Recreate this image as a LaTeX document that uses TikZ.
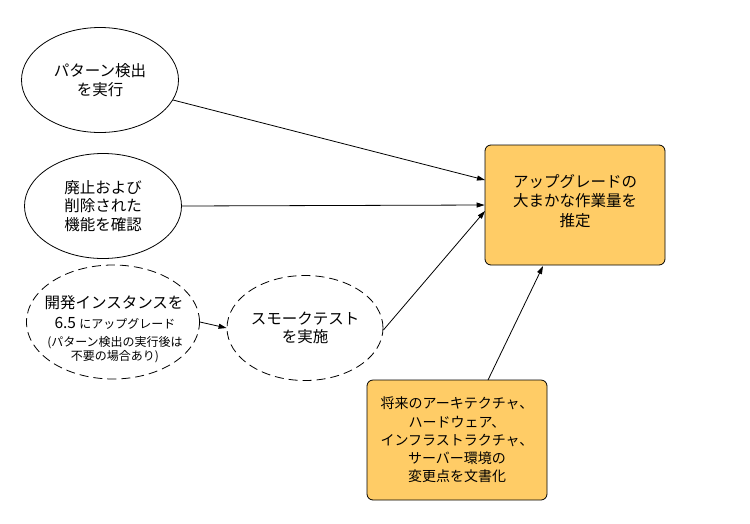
\documentclass[tikz,border=0pt]{standalone}
\usepackage{fontspec}
\setmainfont{Noto Sans CJK JP}
\usetikzlibrary{shapes.geometric,arrows.meta}
\definecolor{boxfill}{HTML}{FFCC66}
\tikzset{
  el/.style={draw=black, line width=0.8pt, ellipse, inner sep=0pt, align=center, font=\fontsize{15.5}{18.5}\selectfont},
  del/.style={el, dash pattern=on 9pt off 5pt},
  rbox/.style={draw=black, line width=0.8pt, fill=boxfill, rounded corners=6pt, align=center, inner sep=0pt},
  big/.style={font=\fontsize{15.5}{19.5}\selectfont, inner sep=0pt, anchor=base},
  small/.style={font=\fontsize{12}{14.5}\selectfont, inner sep=0pt, anchor=base},
  arr/.style={-{Triangle[length=8pt,width=5pt]}, line width=0.8pt},
}
\begin{document}
\begin{tikzpicture}[x=1pt,y=-1pt]
\useasboundingbox (0,0) rectangle (750,523);
\node[el, minimum width=157pt, minimum height=105pt] (e1) at (100,80) {パターン検出\\を実行};
\node[el, minimum width=157pt, minimum height=105pt] (e2) at (103,206) {廃止および\\削除された\\機能を確認};
\node[del, minimum width=173pt, minimum height=114pt] (e3) at (113,322) {};
\node[big] (l1) at (114,308) {開発インスタンスを};
\node[big] (l2) at (115,328.5) {6.5 {\fontsize{12}{14.5}\selectfont にアップグレード}};
\node[small] (l3) at (115,346.5) {(パターン検出の実行後は};
\node[small] (l4) at (115,360.5) {不要の場合あり)};
\node[del, minimum width=156pt, minimum height=105pt] (e4) at (305,328) {スモークテスト\\を実施};
\node[rbox, minimum width=180pt, minimum height=120pt] (t) at (575,205) {};
\node[font=\fontsize{15.5}{19.5}\selectfont, align=center, inner sep=0pt] (tt) at (575,201) {アップグレードの\\大まかな作業量を\\推定};
\node[rbox, minimum width=180pt, minimum height=120pt, font=\fontsize{14}{18.3}\selectfont] (b) at (457,440) {将来のアーキテクチャ、\\ハードウェア、\\インフラストラクチャ、\\サーバー環境の\\変更点を文書化};
\coordinate (a1) at (485,180);
\coordinate (a3) at (485,211);
\coordinate (a5) at (543,266);
\coordinate (s5) at (488,380);
\draw[arr] (e1) ++(73,20) -- (a1);
\draw[arr] (e2.east) -- (t.west);
\draw[arr] (e4.east) ++(0,2) -- (a3);
\draw[arr] (e3.east) -- (e4.west);
\draw[arr] (s5) -- (a5);
\end{tikzpicture}
\end{document}
